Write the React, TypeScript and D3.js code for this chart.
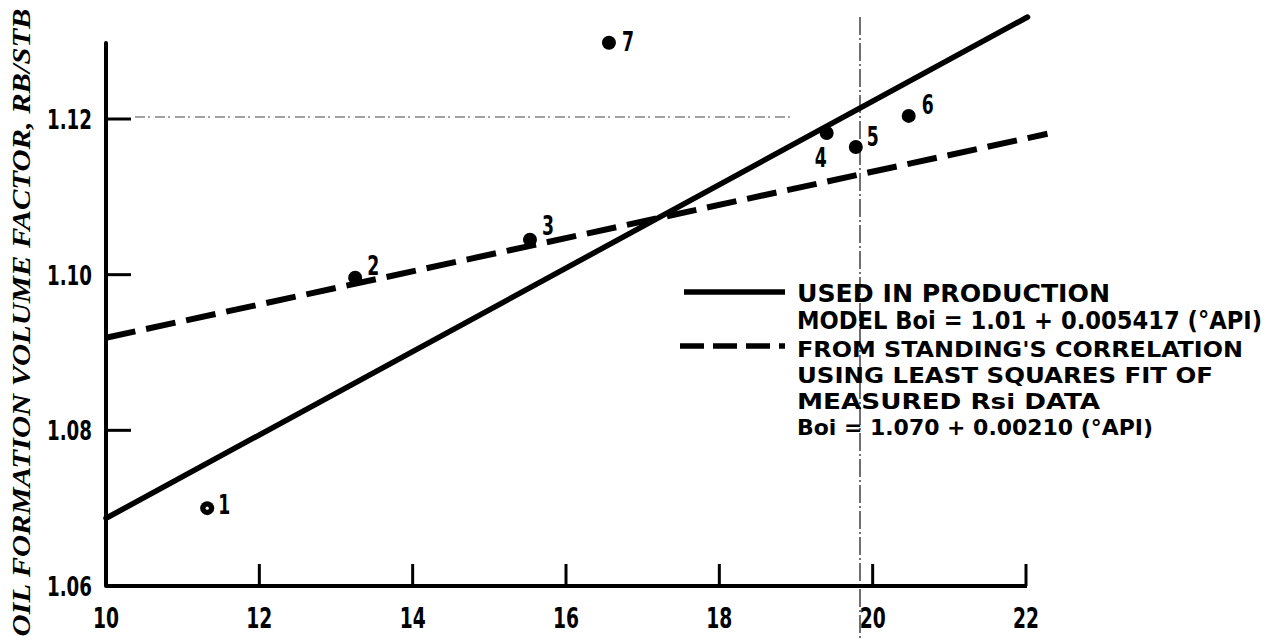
import { useEffect, useRef } from 'react';
import * as d3 from 'd3';

// x: oil gravity, °API ; y: Boi, RB/STB
const xTicks = [10, 12, 14, 16, 18, 20, 22];
const yTicks = [1.06, 1.08, 1.10, 1.12];
const yTickLabels = ['1.06', '1.08', '1.10', '1.12'];

// measured points
const pointIds = ['1', '2', '3', '4', '5', '6', '7'];
const pointApi = [11.32, 13.25, 15.53, 19.4, 19.78, 20.47, 16.56];
const pointBoi = [1.07, 1.0996, 1.1045, 1.1182, 1.1164, 1.1204, 1.1298];

// production model line and Standing's correlation fit (ends)
const modelApi = [10, 22.02];
const modelBoi = [1.0687, 1.1331];
const standingApi = [10, 22.28];
const standingBoi = [1.0919, 1.1181];

const legendSolid = ['USED IN PRODUCTION', 'MODEL Boi = 1.01 + 0.005417 (°API)'];
const legendDashed = [
  "FROM STANDING'S CORRELATION",
  'USING LEAST SQUARES FIT OF',
  'MEASURED Rsi DATA',
  'Boi = 1.070 + 0.00210 (°API)',
];

const W = 1279;
const H = 641;
const COND = '"Liberation Sans Narrow", "DejaVu Sans Condensed", "Roboto", sans-serif';

export default function App() {
  const svgRef = useRef<SVGSVGElement>(null);

  useEffect(() => {
    if (!svgRef.current) return;
    const svg = d3.select(svgRef.current);
    svg.selectAll('*').remove();

    const x = d3.scaleLinear().domain([10, 22]).range([106, 1026]);
    const y = d3.scaleLinear().domain([1.06, 1.12]).range([586, 119]);

    // scan artefacts: dotted grid at 1.12 and thin vertical fold line
    svg.append('line')
      .attr('x1', 135).attr('x2', 790)
      .attr('y1', y(1.12) - 2).attr('y2', y(1.12) - 2)
      .attr('stroke', '#444').attr('stroke-width', 1)
      .attr('stroke-dasharray', '10 3 2 5');
    svg.append('line')
      .attr('x1', 860).attr('x2', 860)
      .attr('y1', 17).attr('y2', H)
      .attr('stroke', '#111').attr('stroke-width', 1.2)
      .attr('stroke-dasharray', '18 3 2 3');

    // axes
    svg.append('line')
      .attr('x1', x(10)).attr('x2', x(10))
      .attr('y1', 43).attr('y2', y(1.06))
      .attr('stroke', '#000').attr('stroke-width', 4).attr('stroke-linecap', 'round');
    svg.append('line')
      .attr('x1', x(10)).attr('x2', x(22) + 1)
      .attr('y1', y(1.06)).attr('y2', y(1.06))
      .attr('stroke', '#000').attr('stroke-width', 4);

    svg.selectAll('.ytick')
      .data(yTicks.slice(1))
      .join('line')
      .attr('x1', x(10)).attr('x2', x(10) + 25)
      .attr('y1', d => y(d)).attr('y2', d => y(d))
      .attr('stroke', '#000').attr('stroke-width', 3);

    svg.selectAll('.xtick')
      .data(xTicks.slice(1))
      .join('line')
      .attr('x1', d => x(d)).attr('x2', d => x(d))
      .attr('y1', y(1.06)).attr('y2', y(1.06) - 22)
      .attr('stroke', '#000').attr('stroke-width', 3);

    svg.selectAll('.ylab')
      .data(yTicks)
      .join('text')
      .attr('x', 47)
      .attr('y', d => y(d) + 10)
      .attr('textLength', 45)
      .attr('lengthAdjust', 'spacingAndGlyphs')
      .style('font-family', COND)
      .style('font-weight', 700)
      .style('font-size', '27px')
      .text((_, i) => yTickLabels[i]);

    svg.selectAll('.xlab')
      .data(xTicks)
      .join('text')
      .attr('x', d => x(d) - 13)
      .attr('y', 628)
      .attr('textLength', 26)
      .attr('lengthAdjust', 'spacingAndGlyphs')
      .style('font-family', COND)
      .style('font-weight', 700)
      .style('font-size', '29px')
      .text(d => String(d));

    // y axis title
    svg.append('text')
      .attr('transform', `translate(30, ${H / 2 + 2}) rotate(-90)`)
      .attr('text-anchor', 'middle')
      .attr('textLength', 628)
      .attr('lengthAdjust', 'spacingAndGlyphs')
      .style('font-family', '"Liberation Serif", "DejaVu Serif", serif')
      .style('font-weight', 700)
      .style('font-style', 'italic')
      .style('font-size', '26px')
      .text('OIL FORMATION VOLUME FACTOR, RB/STB');

    // fitted lines
    const line = d3.line<[number, number]>().x(d => x(d[0])).y(d => y(d[1]));
    svg.append('path')
      .datum(modelApi.map((a, i) => [a, modelBoi[i]] as [number, number]))
      .attr('d', line)
      .attr('fill', 'none')
      .attr('stroke', '#000')
      .attr('stroke-width', 5.5)
      .attr('stroke-linecap', 'round');
    svg.append('path')
      .datum(standingApi.map((a, i) => [a, standingBoi[i]] as [number, number]))
      .attr('d', line)
      .attr('fill', 'none')
      .attr('stroke', '#000')
      .attr('stroke-width', 6)
      .attr('stroke-dasharray', '30 11');

    // points
    const pts = pointIds.map((id, i) => ({ id, a: pointApi[i], b: pointBoi[i] }));
    svg.selectAll('.pt')
      .data(pts)
      .join('circle')
      .attr('cx', d => x(d.a))
      .attr('cy', d => y(d.b))
      .attr('r', 7)
      .attr('fill', '#000');
    svg.append('circle')
      .attr('cx', x(pts[0].a))
      .attr('cy', y(pts[0].b))
      .attr('r', 1.6)
      .attr('fill', '#fff');

    const labelOffset: Record<string, [number, number]> = {
      '1': [11, 6], '2': [12, -3], '3': [12, -5], '4': [-12, 34],
      '5': [11, -1], '6': [13, -2], '7': [13, 8],
    };
    svg.selectAll('.ptlab')
      .data(pts)
      .join('text')
      .attr('x', d => x(d.a) + labelOffset[d.id][0])
      .attr('y', d => y(d.b) + labelOffset[d.id][1])
      .attr('textLength', 12)
      .attr('lengthAdjust', 'spacingAndGlyphs')
      .style('font-family', COND)
      .style('font-weight', 700)
      .style('font-size', '27px')
      .text(d => d.id);

    // legend
    const lg = svg.append('g');
    lg.append('line')
      .attr('x1', 684).attr('x2', 785)
      .attr('y1', 292).attr('y2', 292)
      .attr('stroke', '#000').attr('stroke-width', 5.5);
    lg.append('line')
      .attr('x1', 680).attr('x2', 785)
      .attr('y1', 346).attr('y2', 346)
      .attr('stroke', '#000').attr('stroke-width', 5.5)
      .attr('stroke-dasharray', '24 9');

    const solidLens = [313, 465];
    const dashedLens = [446, 416, 303, 356];
    legendSolid.forEach((t, i) => {
      lg.append('text')
        .attr('x', 797).attr('y', 302 + i * 27)
        .attr('textLength', solidLens[i])
        .attr('lengthAdjust', 'spacingAndGlyphs')
        .style('font-family', COND).style('font-weight', 700).style('font-size', '24px')
        .text(t);
    });
    legendDashed.forEach((t, i) => {
      lg.append('text')
        .attr('x', 797).attr('y', 357 + i * 26)
        .attr('textLength', dashedLens[i])
        .attr('lengthAdjust', 'spacingAndGlyphs')
        .style('font-family', COND).style('font-weight', 700)
        .style('font-size', i === 3 ? '21px' : '22px')
        .text(t);
    });
  }, []);

  return (
    <svg
      ref={svgRef}
      width={W}
      height={H}
      style={{ position: 'absolute', left: 0, top: 0, background: '#fff' }}
    />
  );
}
